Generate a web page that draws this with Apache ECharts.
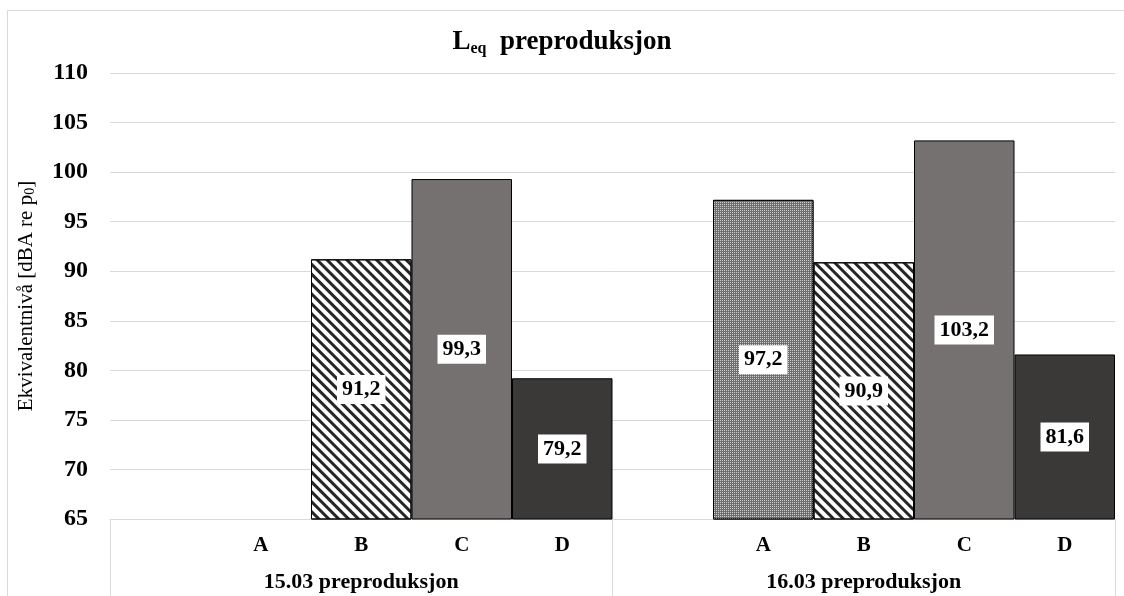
<!DOCTYPE html>
<html>
<head>
<meta charset="utf-8">
<script src="https://cdn.jsdelivr.net/npm/echarts@6/dist/echarts.min.js"></script>
<style>
html,body{margin:0;padding:0;background:#fff;}
#chart{width:1124px;height:596px;}
</style>
</head>
<body>
<div id="chart"></div>
<script>
// ---- data ----
var groups = ['15.03 preproduksjon', '16.03 preproduksjon'];
var positions = ['A', 'B', 'C', 'D'];
var day1503 = [null, 91.2, 99.3, 79.2];
var day1603 = [97.2, 90.9, 103.2, 81.6];
var yTicks = [65, 70, 75, 80, 85, 90, 95, 100, 105, 110];

var FONT = 'Liberation Serif';
var groupValues = [day1503, day1603];

// per-position styles (pattern / colour)
var posStyles = {
  A: { color: '#6e6e6e', decal: { symbol: 'rect', symbolSize: 1, dashArrayX: [1, 1], dashArrayY: [1, 1], rotation: 0, color: '#cfcfcf' } },
  B: { color: '#ffffff', decal: { symbol: 'rect', symbolSize: 1, dashArrayX: [1, 0], dashArrayY: [3, 4], rotation: Math.PI / 4, color: '#262626' } },
  C: { color: '#767171' },
  D: { color: '#3b3838' }
};

// build category slots: one empty slot before each group
var cats = [];
var seriesData = [];
groups.forEach(function (g, gi) {
  cats.push(gi + '|');
  seriesData.push('-');
  positions.forEach(function (p, pi) {
    cats.push(gi + '|' + p);
    var v = groupValues[gi][pi];
    if (v == null) { seriesData.push('-'); return; }
    var st = posStyles[p];
    var itemStyle = { color: st.color, borderColor: '#000', borderWidth: 1 };
    if (st.decal) itemStyle.decal = st.decal;
    seriesData.push({ value: v, itemStyle: itemStyle });
  });
});

var chart = echarts.init(document.getElementById('chart'));
chart.setOption({
  animation: false,
  backgroundColor: '#fff',
  title: {
    text: '{l|L}{sub|eq}{l|  preproduksjon}',
    left: 'center',
    top: 22,
    textStyle: {
      rich: {
        l: { fontFamily: FONT, fontWeight: 'bold', fontSize: 27, color: '#000', lineHeight: 30 },
        sub: { fontFamily: FONT, fontWeight: 'bold', fontSize: 16, color: '#000', verticalAlign: 'bottom', lineHeight: 12 }
      }
    }
  },
  graphic: [{
    type: 'rect', silent: true, z: -1,
    shape: { x: 7.5, y: 10.5, width: 1200, height: 700 },
    style: { fill: 'none', stroke: '#d9d9d9', lineWidth: 1 }
  }],
  grid: { left: 110, right: 9, top: 73, bottom: 77, containLabel: false },
  xAxis: [{
    type: 'category',
    data: cats,
    position: 'bottom',
    axisLine: { show: true, lineStyle: { color: '#d9d9d9', width: 1 } },
    axisTick: { show: false },
    axisLabel: {
      interval: 0,
      margin: 16,
      fontFamily: FONT, fontWeight: 'bold', fontSize: 21, color: '#000',
      formatter: function (v) { return v.split('|')[1]; }
    }
  }, {
    type: 'category',
    data: groups,
    position: 'bottom',
    gridIndex: 0,
    axisLine: { show: false },
    axisTick: { show: true, length: 80, lineStyle: { color: '#d9d9d9', width: 1 } },
    axisLabel: {
      interval: 0,
      margin: 52,
      fontFamily: FONT, fontWeight: 'bold', fontSize: 22, color: '#000'
    }
  }],
  yAxis: {
    type: 'value',
    min: yTicks[0],
    max: yTicks[yTicks.length - 1],
    interval: 5,
    name: 'Ekvivalentnivå [dBA re p{sub|0}]',
    nameLocation: 'middle',
    nameGap: 73,
    nameRotate: 90,
    nameTextStyle: {
      fontFamily: FONT, fontSize: 21, color: '#000',
      rich: { sub: { fontFamily: FONT, fontSize: 14, color: '#000', verticalAlign: 'bottom', lineHeight: 14 } }
    },
    axisLine: { show: false },
    axisTick: { show: false },
    splitLine: { lineStyle: { color: '#d9d9d9', width: 1 } },
    axisLabel: {
      margin: 22,
      fontFamily: FONT, fontWeight: 'bold', fontSize: 24, color: '#000'
    }
  },
  series: [{
    type: 'bar',
    xAxisIndex: 0,
    data: seriesData,
    barCategoryGap: 0,
    barWidth: '100%',
    label: {
      show: true,
      position: 'inside',
      fontFamily: FONT, fontWeight: 'bold', fontSize: 22, color: '#000',
      backgroundColor: '#fff',
      padding: [4, 5, 3, 5],
      formatter: function (p) { return String(p.value).replace('.', ','); }
    }
  }]
});
</script>
</body>
</html>
